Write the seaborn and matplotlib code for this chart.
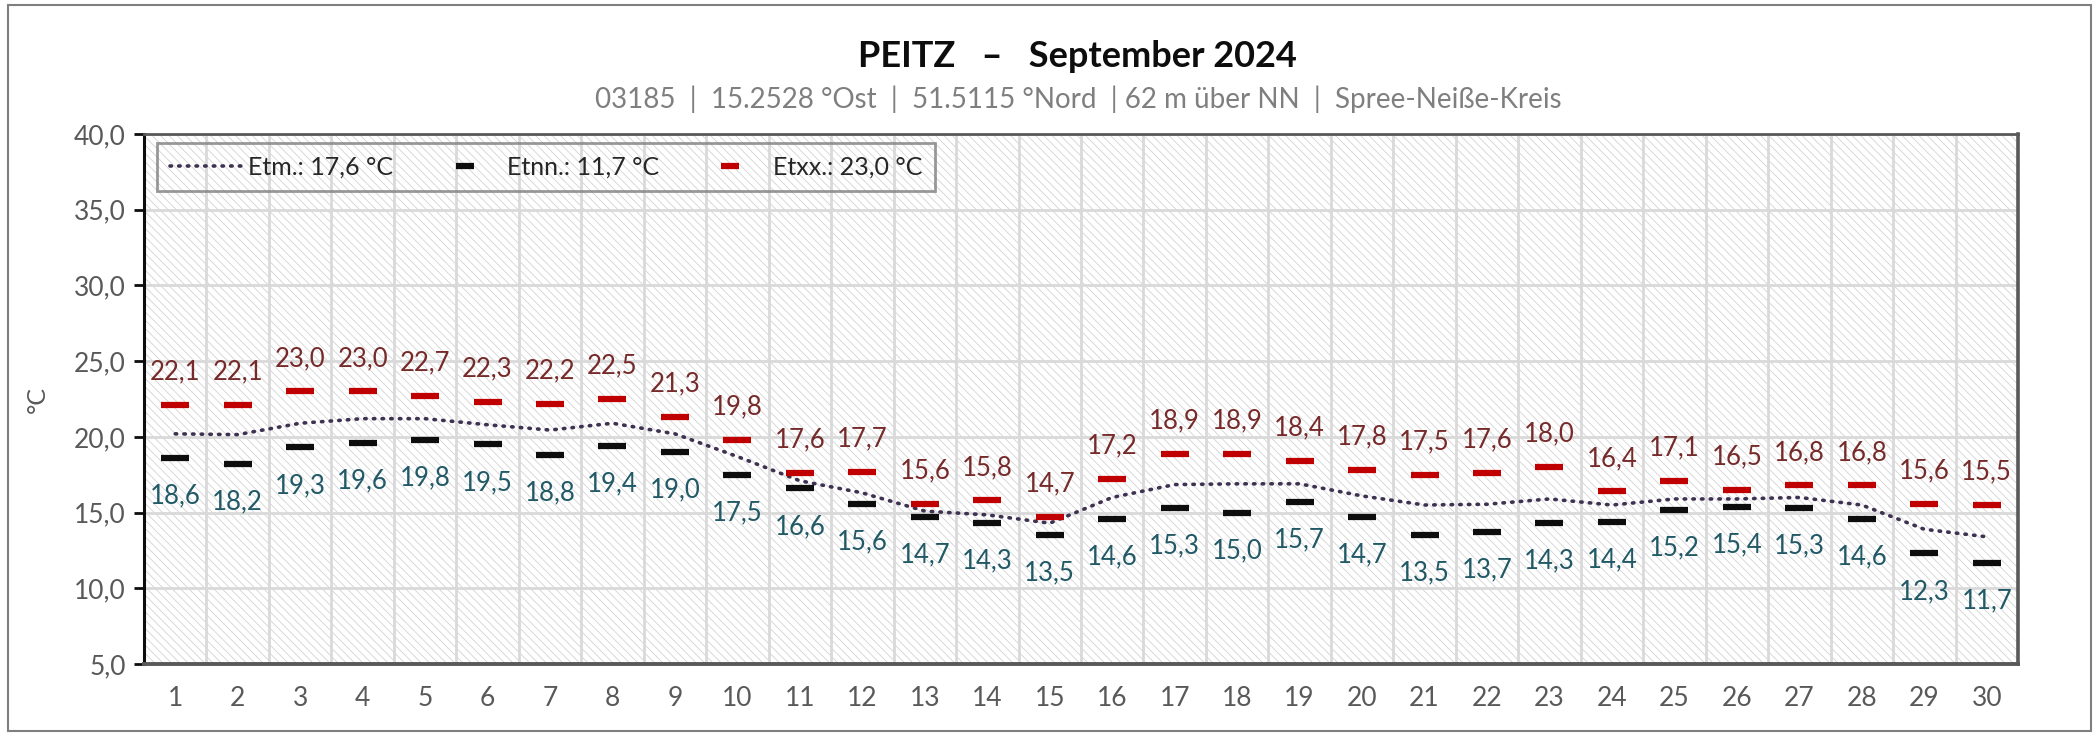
import matplotlib
matplotlib.use("Agg")
import matplotlib.pyplot as plt
from matplotlib.lines import Line2D
from matplotlib.patches import Rectangle
import seaborn as sns

days = list(range(1, 31))
tmax = [22.1, 22.1, 23.0, 23.0, 22.7, 22.3, 22.2, 22.5, 21.3, 19.8,
        17.6, 17.7, 15.6, 15.8, 14.7, 17.2, 18.9, 18.9, 18.4, 17.8,
        17.5, 17.6, 18.0, 16.4, 17.1, 16.5, 16.8, 16.8, 15.6, 15.5]
tmin = [18.6, 18.2, 19.3, 19.6, 19.8, 19.5, 18.8, 19.4, 19.0, 17.5,
        16.6, 15.6, 14.7, 14.3, 13.5, 14.6, 15.3, 15.0, 15.7, 14.7,
        13.5, 13.7, 14.3, 14.4, 15.2, 15.4, 15.3, 14.6, 12.3, 11.7]
tmean = [20.2, 20.15, 20.9, 21.2, 21.2, 20.8, 20.45, 20.9, 20.2, 18.7,
         17.1, 16.3, 15.1, 14.85, 14.3, 16.0, 16.85, 16.9, 16.9, 16.1,
         15.5, 15.55, 15.9, 15.5, 15.9, 15.9, 16.0, 15.5, 13.9, 13.4]
legend_labels = ["Etm.: 17,6 °C", "Etnn.: 11,7 °C", "Etxx.: 23,0 °C"]
title = "PEITZ   –   September 2024"
subtitle = "03185  |  15.2528 °Ost  |  51.5115 °Nord  | 62 m über NN  |  Spree-Neiße-Kreis"

sns.set_theme(style="white")
plt.rcParams["font.family"] = ["Lato", "DejaVu Sans"]
plt.rcParams["hatch.linewidth"] = 0.55

fig = plt.figure(figsize=(20.99, 7.33), dpi=100)
ax = fig.add_axes([0.0686, 0.0941, 0.8928, 0.7231])

# hatched plot background
ax.add_patch(Rectangle((0, 0), 1, 1, transform=ax.transAxes, facecolor="white",
                       edgecolor="#CFCFCF", hatch="\\\\\\\\", lw=0, zorder=0))

sns.lineplot(x=days, y=tmean, ax=ax, color="#3F3151", lw=2.6,
             linestyle=(0, (0.4, 2.0)), zorder=3)
ax.lines[-1].set_dash_capstyle("round")
sns.scatterplot(x=days, y=tmin, ax=ax, marker="_", s=380, linewidth=4.5,
                color="#0D0D0D", zorder=4)
sns.scatterplot(x=days, y=tmax, ax=ax, marker="_", s=380, linewidth=4.5,
                color="#C00000", zorder=4)

def fmt(v):
    return f"{v:.1f}".replace(".", ",")

for d, hi, lo in zip(days, tmax, tmin):
    ax.annotate(fmt(hi), (d, hi), xytext=(0, 33), textcoords="offset pixels",
                ha="center", va="center", fontsize=18.5, color="#772A2A")
    ax.annotate(fmt(lo), (d, lo), xytext=(0, -38), textcoords="offset pixels",
                ha="center", va="center", fontsize=18.5, color="#215967")

ax.set_xlim(0.5, 30.5)
ax.set_ylim(5, 40)
ax.set_xticks(days)
ax.set_xticks([d + 0.5 for d in range(0, 31)], minor=True)
ax.set_yticks(range(5, 45, 5))
ax.set_yticklabels([fmt(v) for v in range(5, 45, 5)])
ax.set_axisbelow(True)
ax.grid(True, axis="y", which="major", color="#D9D9D9", lw=2, zorder=1)
ax.grid(True, axis="x", which="minor", color="#D9D9D9", lw=2, zorder=1)
ax.grid(False, axis="x", which="major")
ax.tick_params(axis="x", which="both", length=0, pad=16, labelsize=19, labelcolor="#595959")
ax.tick_params(axis="y", which="major", length=7, width=2, color="#0D0D0D", direction="out",
               left=True, pad=6, labelsize=19, labelcolor="#595959")
ax.set_ylabel("°C", fontsize=18, color="#595959", labelpad=18)

for side, c, w in [("left", "#0D0D0D", 2.2), ("bottom", "#595959", 2.8),
                   ("top", "#595959", 2.0), ("right", "#595959", 2.6)]:
    ax.spines[side].set_visible(True)
    ax.spines[side].set_color(c)
    ax.spines[side].set_linewidth(w)

handles = [
    Line2D([], [], color="#3F3151", lw=2.6, linestyle=(0, (0.4, 2.0)), dash_capstyle="round"),
    Line2D([], [], color="#0D0D0D", marker="_", markersize=13, mew=4.5, lw=0),
    Line2D([], [], color="#C00000", marker="_", markersize=13, mew=4.5, lw=0),
]
leg = ax.legend(handles, legend_labels, loc="upper left", bbox_to_anchor=(0.007, 0.983),
                borderaxespad=0, ncol=3, fontsize=18, frameon=True, fancybox=False,
                handlelength=2.9, columnspacing=1.4, borderpad=0.5, handletextpad=0.25)
leg.get_frame().set_edgecolor("#7F7F7F")
leg.get_frame().set_linewidth(2)
leg.get_frame().set_facecolor("none")

fig.text(0.5135, 0.9236, title, ha="center", va="center", fontsize=26,
         fontweight="bold", color="#0D0D0D")
fig.text(0.5135, 0.865, subtitle, ha="center", va="center", fontsize=20, color="#7F7F7F")

fig.patches.append(Rectangle((0.004, 0.003), 0.992, 0.99, transform=fig.transFigure,
                             fill=False, edgecolor="#7F7F7F", lw=1.5))

fig.savefig("out.png", dpi=100)
